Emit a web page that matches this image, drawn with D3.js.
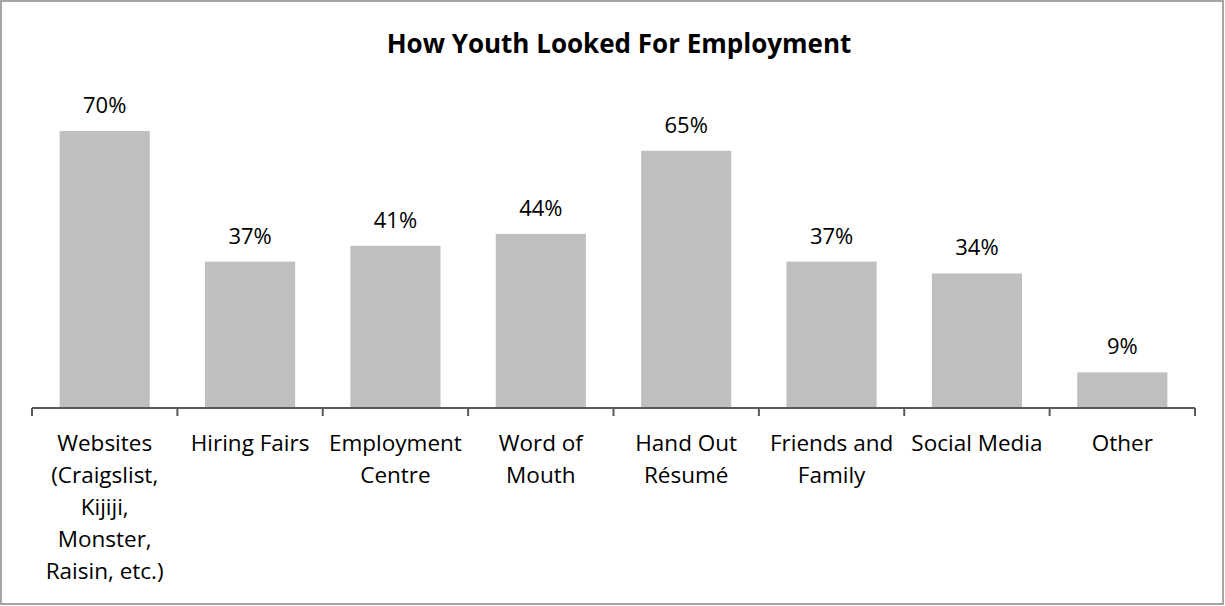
<!DOCTYPE html>
<html>
<head>
<meta charset="utf-8">
<script src="https://cdn.jsdelivr.net/npm/d3@7"></script>
<style>
  html, body { margin: 0; padding: 0; background: #fff; }
  svg { display: block; }
  text { font-family: "Open Sans", Lato, sans-serif; fill: #000; }
</style>
</head>
<body>
<div id="chart"></div>
<script>
// Survey results: how youth looked for employment (share of respondents, %)
const categories = [
  ["Websites", "(Craigslist,", "Kijiji,", "Monster,", "Raisin, etc.)"],
  ["Hiring Fairs"],
  ["Employment", "Centre"],
  ["Word of", "Mouth"],
  ["Hand Out", "Résumé"],
  ["Friends and", "Family"],
  ["Social Media"],
  ["Other"]
];
const values = [70, 37, 41, 44, 65, 37, 34, 9];
const title = "How Youth Looked For Employment";

const W = 1225, H = 606;
const margin = { left: 32, right: 30, top: 0, bottom: 198 };
const plotBottom = H - margin.bottom; // axis line

const svg = d3.select("#chart").append("svg")
  .attr("width", W).attr("height", H);

// chart frame
svg.append("rect")
  .attr("x", 1).attr("y", 1).attr("width", W - 3).attr("height", H - 3)
  .attr("fill", "#fff").attr("stroke", "#a6a6a6").attr("stroke-width", 2);

const keys = categories.map((c, i) => i);
const x = d3.scaleBand().domain(keys)
  .range([margin.left, W - margin.right])
  .paddingInner(0.38).paddingOuter(0.19);

const y = d3.scaleLinear().domain([0, 80]).range([plotBottom, plotBottom - 80 * 3.957]);

svg.append("text")
  .attr("x", 619).attr("y", 53)
  .attr("text-anchor", "middle")
  .style("font-weight", "bold").style("font-size", "26px")
  .text(title);

// bars
svg.selectAll("rect.bar").data(values).enter().append("rect")
  .attr("class", "bar")
  .attr("x", (d, i) => x(i))
  .attr("y", d => y(d))
  .attr("width", x.bandwidth())
  .attr("height", d => y(0) - y(d))
  .attr("fill", "#bfbfbf");

// value labels
svg.selectAll("text.val").data(values).enter().append("text")
  .attr("class", "val")
  .attr("x", (d, i) => x(i) + x.bandwidth() / 2)
  .attr("y", d => y(d) - 18)
  .attr("text-anchor", "middle")
  .style("font-size", "22px")
  .text(d => d + "%");

// category axis with ticks at band boundaries
const step = x.step();
const edges = d3.range(categories.length + 1).map(i => margin.left + i * step);
const axis = svg.append("g").attr("stroke", "#595959").attr("stroke-width", 2);
axis.append("line")
  .attr("x1", edges[0]).attr("x2", edges[edges.length - 1])
  .attr("y1", plotBottom).attr("y2", plotBottom);
axis.selectAll("line.tick").data(edges).enter().append("line")
  .attr("class", "tick")
  .attr("x1", d => d).attr("x2", d => d)
  .attr("y1", plotBottom).attr("y2", plotBottom + 8);

// category labels
const lab = svg.selectAll("text.cat").data(categories).enter().append("text")
  .attr("class", "cat")
  .attr("text-anchor", "middle")
  .style("font-size", "22.5px");
lab.selectAll("tspan").data((d, i) => d.map(s => ({ s, i }))).enter().append("tspan")
  .attr("x", d => x(d.i) + x.bandwidth() / 2)
  .attr("y", (d, j) => 451 + j * 32)
  .text(d => d.s);
</script>
</body>
</html>
